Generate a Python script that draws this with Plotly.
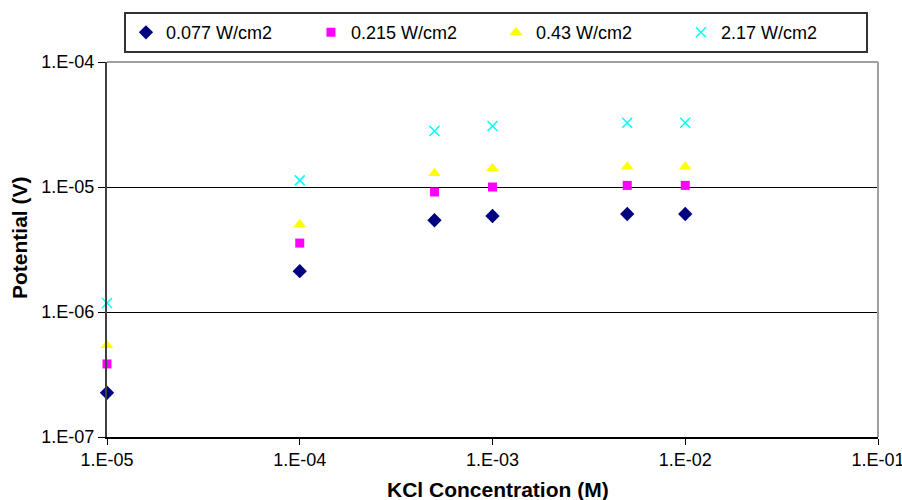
import plotly.graph_objects as go

# KCl concentration (M)
conc = [1e-5, 1e-4, 5e-4, 1e-3, 5e-3, 1e-2]

# Measured potential (V) for each illumination intensity
pot_0077 = [2.26e-7, 2.12e-6, 5.42e-6, 5.86e-6, 6.08e-6, 6.08e-6]
pot_0215 = [3.84e-7, 3.56e-6, 9.12e-6, 1.00e-5, 1.03e-5, 1.03e-5]
pot_043 = [5.42e-7, 5.03e-6, 1.29e-5, 1.41e-5, 1.45e-5, 1.45e-5]
pot_217 = [1.18e-6, 1.13e-5, 2.81e-5, 3.08e-5, 3.27e-5, 3.27e-5]

series_names = ["0.077 W/cm2", "0.215 W/cm2", "0.43 W/cm2", "2.17 W/cm2"]

x_tickvals = [1e-5, 1e-4, 1e-3, 1e-2, 1e-1]
x_ticktext = ["1.E-05", "1.E-04", "1.E-03", "1.E-02", "1.E-01"]
y_tickvals = [1e-7, 1e-6, 1e-5, 1e-4]
y_ticktext = ["1.E-07", "1.E-06", "1.E-05", "1.E-04"]

FONT = "Liberation Sans, Arial, sans-serif"

styles = [
    dict(symbol="diamond", color="#000080", size=11),
    dict(symbol="square", color="#FF00FF", size=9),
    dict(symbol="triangle-up", color="#FFFF00", size=11),
    dict(symbol="x-thin", color="#00FFFF", size=10),
]

fig = go.Figure()
for name, vals, st in zip(series_names, [pot_0077, pot_0215, pot_043, pot_217], styles):
    marker = dict(symbol=st["symbol"], color=st["color"], size=st["size"])
    if st["symbol"] == "x-thin":
        marker["line"] = dict(color=st["color"], width=1.5)
    else:
        marker["line"] = dict(width=0)
    fig.add_trace(go.Scatter(
        x=conc, y=vals, mode="markers", name=name,
        marker=marker, cliponaxis=False,
    ))

fig.update_layout(
    width=902, height=500,
    margin=dict(l=107, r=24, t=62, b=63),
    paper_bgcolor="white", plot_bgcolor="white",
    font=dict(family=FONT, color="black", size=18),
    showlegend=True,
    legend=dict(
        orientation="h",
        x=0.022, xanchor="left",
        y=1.133, yanchor="top",
        bordercolor="#333333", borderwidth=2,
        bgcolor="white",
        font=dict(family=FONT, size=18, color="black"),
        entrywidth=140, entrywidthmode="pixels",
        itemsizing="trace",
    ),
    xaxis=dict(
        type="log", range=[-5, -1],
        tickvals=x_tickvals, ticktext=x_ticktext,
        showgrid=False, zeroline=False,
        showline=True, linecolor="black", linewidth=1.5,
        ticks="outside", ticklen=6, tickcolor="black", tickwidth=1,
        tickfont=dict(family=FONT, size=18, color="black"),
        ticklabeloverflow="allow", automargin=False,
    ),
    yaxis=dict(
        type="log", range=[-7, -4],
        tickvals=y_tickvals, ticktext=y_ticktext,
        showgrid=True, gridcolor="black", gridwidth=1.3,
        zeroline=False, automargin=False,
        showline=True, linecolor="#404040", linewidth=2,
        ticks="outside", ticklen=7, tickcolor="black", tickwidth=1,
        tickfont=dict(family=FONT, size=18, color="black"),
    ),
    annotations=[
        dict(text="<b>KCl Concentration (M)</b>", xref="paper", yref="paper",
             x=0.507, y=-0.141, xanchor="center", yanchor="middle",
             showarrow=False, font=dict(family=FONT, size=21, color="black")),
        dict(text="<b>Potential (V)</b>", xref="paper", yref="paper",
             x=-0.1128, y=0.5307, xanchor="center", yanchor="middle",
             textangle=-90, showarrow=False,
             font=dict(family=FONT, size=21, color="black")),
    ],
    shapes=[
        # light frame along the top and right edges of the plot area
        dict(type="line", xref="paper", yref="paper", x0=0, x1=1, y0=1, y1=1,
             line=dict(color="#a0a0a0", width=2), layer="above"),
        dict(type="line", xref="paper", yref="paper", x0=1, x1=1, y0=0, y1=1,
             line=dict(color="#a0a0a0", width=2), layer="above"),
    ],
)

fig.write_html("out.html")
